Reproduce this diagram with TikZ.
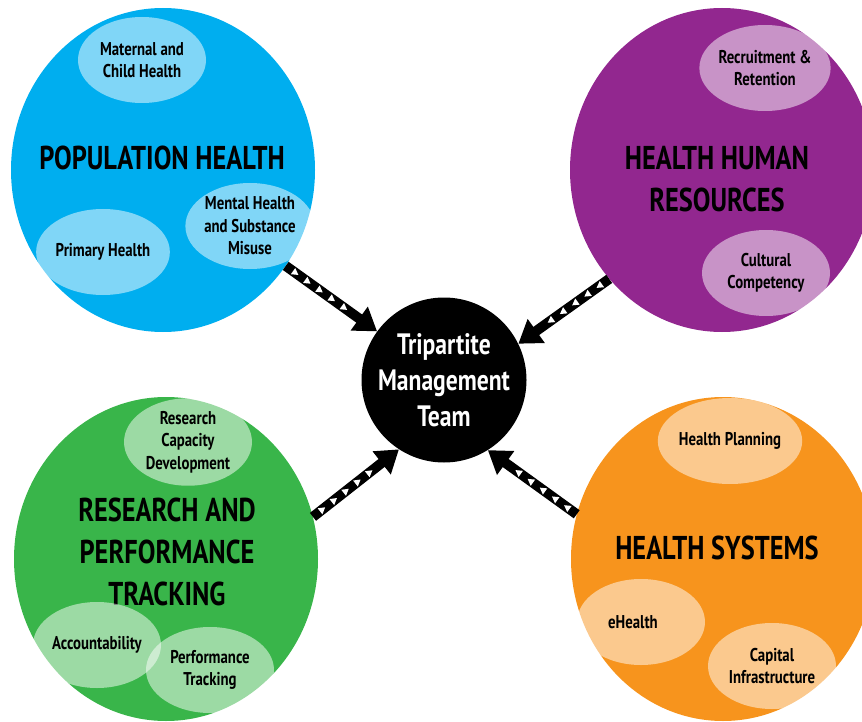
\documentclass[tikz,border=0pt]{standalone}
\usepackage{fontspec}
\setmainfont{PT Sans}[FakeStretch=0.8]
\usetikzlibrary{shapes.geometric,arrows.meta,decorations.markings}

\definecolor{popblue}{HTML}{00AEEF}
\definecolor{hrpurple}{HTML}{92278F}
\definecolor{resgreen}{HTML}{39B54A}
\definecolor{sysorange}{HTML}{F7941D}

\tikzset{
  area/.style={ellipse, inner sep=0pt, minimum width=304pt, minimum height=324pt},
  topic/.style={ellipse, inner sep=0pt, minimum width=128pt, minimum height=86pt,
    fill=white, fill opacity=0.5, text opacity=1, align=center,
    font=\fontsize{18.5}{22.5}\selectfont\bfseries},
  title/.style={align=center, font=\fontsize{33}{42}\selectfont\bfseries},
  flow/.style={draw=black, line width=10pt, -{Triangle[length=22pt,width=28pt]},
    postaction={decorate},
    decoration={markings,
      mark=between positions 12pt and -30pt step 15pt with
        {\fill[white] (-3pt,-3.8pt) -- (3.5pt,0pt) -- (-3pt,3.8pt) -- cycle;}}}
}

\begin{document}
\begin{tikzpicture}[x=1pt,y=-1pt]
\useasboundingbox (0,0) rectangle (862,722);
\clip (0,0) rectangle (862,722);

% the four programme areas
\node[area, fill=popblue]    (pop) at (163,170) {};
\node[area, fill=hrpurple]   (hhr) at (722,170) {};
\node[area, fill=resgreen]   (res) at (166,559) {};
\node[area, fill=sysorange]  (sys) at (723,559) {};

% central team
\node[circle, fill=black, inner sep=0pt, minimum size=165pt, text=white, align=center,
      font=\fontsize{29.5}{36}\selectfont\bfseries] (tmt) at (444,380)
      {Tripartite\\Management\\Team};

% area titles
\node[title] (popt) at (162,158) {POPULATION HEALTH};
\node[title] (hhrt) at (717,179) {HEALTH HUMAN\\RESOURCES};
\node[title] (rest) at (167,552) {RESEARCH AND\\PERFORMANCE\\TRACKING};
\node[title] (syst) at (717,548) {HEALTH SYSTEMS};

% sub-topics
\node[topic] (mch) at (142,60)  {Maternal and\\Child Health};
\node[topic] (mhs) at (250,226) {Mental Health\\and Substance\\Misuse};
\node[topic] (prh) at (103,252) {Primary Health};

\node[topic] (rr)  at (765,68)  {Recruitment \&\\Retention};
\node[topic] (cc)  at (766,273) {Cultural\\Competency};

\node[topic] (rcd) at (188,442) {Research\\Capacity\\Development};
\node[topic] (acc) at (97,645)  {Accountability};
\node[topic] (pft) at (210,670) {Performance\\Tracking};

\node[topic] (hp)  at (730,441) {Health Planning};
\node[topic] (eh)  at (641,622) {\hspace*{-16pt}eHealth};
\node[topic] (ci)  at (772,666) {Capital\\Infrastructure};

% flows into the team
\draw[flow] (pop.-38)   -- (tmt.144);
\draw[flow] (hhr.224.5) -- (tmt.26.6);
\draw[flow] (res.16.8)  -- (tmt.237.4);
\draw[flow] (sys.163)   -- (tmt.-58.5);
\end{tikzpicture}
\end{document}
